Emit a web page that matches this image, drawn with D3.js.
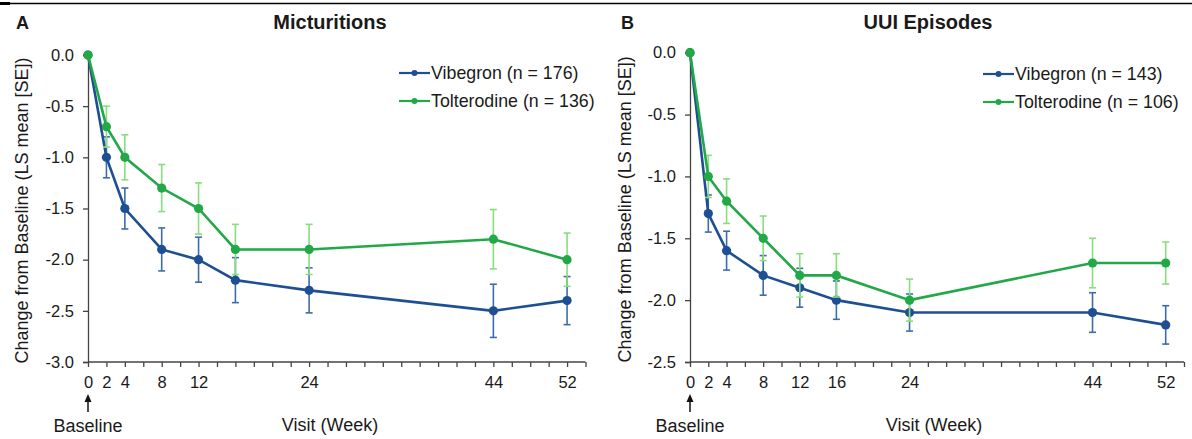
<!DOCTYPE html>
<html>
<head>
<meta charset="utf-8">
<script src="https://cdn.jsdelivr.net/npm/d3@7"></script>
<style>
  html, body { margin: 0; padding: 0; background: #fff; }
  svg { display: block; font-family: "Liberation Sans", Arial, sans-serif; }
</style>
</head>
<body>
<svg id="chart" width="1192" height="439"></svg>
<script>
// Visit weeks (0 = baseline)
const weeks = [0, 2, 4, 8, 12, 16, 24, 44, 52];

// Panel A: micturitions, LS mean change from baseline and SE
const micVibegronMean = [0, -1.0, -1.5, -1.9, -2.0, -2.2, -2.3, -2.5, -2.4];
const micVibegronSE   = [0, 0.20, 0.20, 0.21, 0.22, 0.22, 0.22, 0.26, 0.235];
const micTolterodineMean = [0, -0.7, -1.0, -1.3, -1.5, -1.9, -1.9, -1.8, -2.0];
const micTolterodineSE   = [0, 0.20, 0.22, 0.23, 0.25, 0.245, 0.245, 0.29, 0.26];

// Panel B: UUI episodes
const uuiVibegronMean = [0, -1.3, -1.6, -1.8, -1.9, -2.0, -2.1, -2.1, -2.2];
const uuiVibegronSE   = [0, 0.15, 0.157, 0.16, 0.157, 0.155, 0.15, 0.16, 0.155];
const uuiTolterodineMean = [0, -1.0, -1.2, -1.5, -1.8, -1.8, -2.0, -1.7, -1.7];
const uuiTolterodineSE   = [0, 0.17, 0.18, 0.18, 0.175, 0.175, 0.17, 0.20, 0.17];

// Axis tick labels
const micXLabels = [0, 2, 4, 8, 12, 24, 44, 52];
const uuiXLabels = [0, 2, 4, 8, 12, 16, 24, 44, 52];
const micYTicks = [0, -0.5, -1.0, -1.5, -2.0, -2.5, -3.0];
const uuiYTicks = [0, -0.5, -1.0, -1.5, -2.0, -2.5];
const xMinorTicks = d3.range(0, 56, 2);

const micLegend = ["Vibegron (n = 176)", "Tolterodine (n = 136)"];
const uuiLegend = ["Vibegron (n = 143)", "Tolterodine (n = 106)"];

const colors = {
  vibLine: "#1d4f92", vibErr: "#3d6cab",
  tolLine: "#22a847", tolErr: "#86de7c",
  axis: "#444", text: "#1a1a1a"
};

const svg = d3.select("#chart");

// top rule
svg.append("line").attr("x1", 0).attr("x2", 1192).attr("y1", 3.5).attr("y2", 3.5)
  .attr("stroke", "#000").attr("stroke-width", 1.4);
svg.append("line").attr("x1", 0).attr("x2", 10).attr("y1", 3.5).attr("y2", 3.5)
  .attr("stroke", "#000").attr("stroke-width", 3);

function drawPanel(cfg) {
  const g = svg.append("g");
  const x = d3.scaleLinear().domain([0, 54]).range([cfg.x0, cfg.x1]);
  const y = d3.scaleLinear().domain([cfg.yMin, 0]).range([cfg.yBottom, cfg.yTop]);

  // panel letter and title
  g.append("text").attr("x", cfg.letterX).attr("y", 29)
    .attr("font-size", 18).attr("font-weight", "bold").attr("fill", colors.text)
    .text(cfg.letter);
  g.append("text").attr("x", cfg.titleX).attr("y", 29).attr("text-anchor", "middle")
    .attr("font-size", 20).attr("font-weight", "bold").attr("fill", colors.text)
    .text(cfg.title);

  // y axis
  const yAxis = d3.axisLeft(y).tickValues(cfg.yTicks).tickSize(5).tickPadding(9);
  const ya = g.append("g").attr("transform", `translate(${cfg.x0},0)`).call(yAxis);
  ya.select(".domain").attr("stroke", colors.axis).attr("stroke-width", 1.3);
  ya.selectAll(".tick line").attr("stroke", colors.axis).attr("stroke-width", 1.3);
  ya.selectAll(".tick text").attr("font-size", 16.5).attr("fill", colors.text)
    .attr("font-family", "Liberation Sans, Arial, sans-serif")
    .text(d => (d === 0 ? "0.0" : "-" + d3.format(".1f")(-d)));

  // x axis: ticks every 2 weeks, labels at visits only
  const xAxis = d3.axisBottom(x).tickValues(xMinorTicks).tickSize(5).tickPadding(9)
    .tickFormat(d => (cfg.xLabels.includes(d) ? d : ""));
  const xa = g.append("g").attr("transform", `translate(0,${cfg.yBottom})`).call(xAxis);
  xa.select(".domain").attr("stroke", colors.axis).attr("stroke-width", 1.3)
    .attr("d", `M${cfg.x0},0H${cfg.x1}`);
  xa.selectAll(".tick line").attr("stroke", colors.axis).attr("stroke-width", 1.3);
  xa.selectAll(".tick text").attr("font-size", 16.5).attr("fill", colors.text)
    .attr("font-family", "Liberation Sans, Arial, sans-serif");

  // y axis title
  g.append("text")
    .attr("transform", `translate(${cfg.yTitleX},${(cfg.yTop + cfg.yBottom) / 2 + 2}) rotate(-90)`)
    .attr("text-anchor", "middle").attr("font-size", 18).attr("fill", colors.text)
    .text("Change from Baseline (LS mean [SE])");

  // x axis title
  g.append("text").attr("x", cfg.xTitleX).attr("y", 431).attr("text-anchor", "middle")
    .attr("font-size", 18).attr("fill", colors.text).text("Visit (Week)");

  // baseline arrow and label
  const bx = x(0);
  g.append("line").attr("x1", bx).attr("x2", bx).attr("y1", 401).attr("y2", 412)
    .attr("stroke", "#111").attr("stroke-width", 1.5);
  g.append("path").attr("d", `M${bx},394 L${bx - 3.5},402 L${bx + 3.5},402 Z`).attr("fill", "#111");
  g.append("text").attr("x", bx).attr("y", 432).attr("text-anchor", "middle")
    .attr("font-size", 18).attr("fill", colors.text).text("Baseline");

  const line = d3.line().x(d => x(d.w)).y(d => y(d.m));

  cfg.series.forEach(s => {
    const pts = weeks.map((w, i) => ({ w, m: s.mean[i], se: s.se[i] }));
    const eg = g.append("g");
    pts.filter(p => p.se > 0).forEach(p => {
      const cx = x(p.w), top = y(p.m + p.se), bot = y(p.m - p.se);
      eg.append("line").attr("x1", cx).attr("x2", cx).attr("y1", top).attr("y2", bot)
        .attr("stroke", s.err).attr("stroke-width", 1.6);
      [top, bot].forEach(yy => eg.append("line")
        .attr("x1", cx - 3.5).attr("x2", cx + 3.5).attr("y1", yy).attr("y2", yy)
        .attr("stroke", s.err).attr("stroke-width", 1.6));
    });
    g.append("path").datum(pts).attr("d", line).attr("fill", "none")
      .attr("stroke", s.line).attr("stroke-width", 2.6);
    g.selectAll(null).data(pts).enter().append("circle")
      .attr("cx", d => x(d.w)).attr("cy", d => y(d.m)).attr("r", 4.6).attr("fill", s.line);
  });

  // legend
  cfg.series.forEach((s, i) => {
    const ly = cfg.legendY + i * 28;
    g.append("line").attr("x1", cfg.legendX).attr("x2", cfg.legendX + 31)
      .attr("y1", ly).attr("y2", ly).attr("stroke", s.line).attr("stroke-width", 2.2);
    g.append("circle").attr("cx", cfg.legendX + 15.5).attr("cy", ly).attr("r", 3).attr("fill", s.line);
    g.append("text").attr("x", cfg.legendX + 32).attr("y", ly).attr("dy", "0.35em")
      .attr("font-size", 17.8).attr("fill", colors.text).text(cfg.legend[i]);
  });
}

drawPanel({
  letter: "A", letterX: 16, title: "Micturitions", titleX: 330,
  x0: 88, x1: 585.5, yTop: 55, yBottom: 362, yMin: -3,
  yTicks: micYTicks, xLabels: micXLabels, yTitleX: 28, xTitleX: 330,
  legendX: 399, legendY: 73, legend: micLegend,
  series: [
    { mean: micVibegronMean, se: micVibegronSE, line: colors.vibLine, err: colors.vibErr },
    { mean: micTolterodineMean, se: micTolterodineSE, line: colors.tolLine, err: colors.tolErr }
  ]
});

drawPanel({
  letter: "B", letterX: 621, title: "UUI Episodes", titleX: 928,
  x0: 690, x1: 1184, yTop: 52.7, yBottom: 362, yMin: -2.5,
  yTicks: uuiYTicks, xLabels: uuiXLabels, yTitleX: 631, xTitleX: 934,
  legendX: 983, legendY: 74, legend: uuiLegend,
  series: [
    { mean: uuiVibegronMean, se: uuiVibegronSE, line: colors.vibLine, err: colors.vibErr },
    { mean: uuiTolterodineMean, se: uuiTolterodineSE, line: colors.tolLine, err: colors.tolErr }
  ]
});
</script>
</body>
</html>
